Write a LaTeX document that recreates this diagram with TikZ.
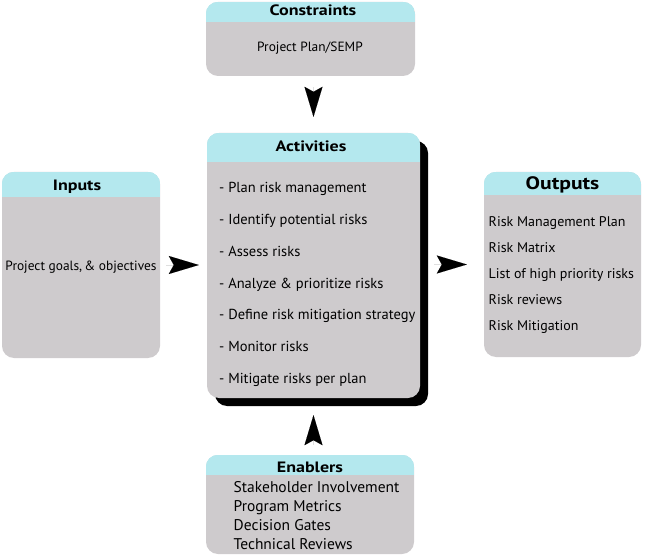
\documentclass[tikz,border=0pt]{standalone}
\usepackage{fontspec}
\setmainfont{PT Sans}
\newfontfamily\ttlfont{PT Sans}[FakeStretch=1.2]
\usetikzlibrary{arrows.meta,shadows}
\definecolor{boxgray}{RGB}{206,203,205}
\definecolor{headcyan}{RGB}{180,232,238}
\tikzset{
  box/.style={fill=boxgray, rounded corners=12pt, inner sep=0pt},
  ttl/.style={font=\ttlfont\fontsize{15}{17}\selectfont\bfseries, inner sep=0pt, anchor=base},
  itm/.style={font=\fontsize{14.5}{17}\selectfont, inner sep=0pt, anchor=base west},
  oit/.style={font=\fontsize{14}{16}\selectfont, inner sep=0pt, anchor=base west},
  bod/.style={font=\fontsize{13.4}{16}\selectfont, inner sep=0pt, anchor=base},
  enb/.style={font=\fontsize{15.5}{17}\selectfont, inner sep=0pt, anchor=base west},
  arr/.style={draw=black, line width=0.01pt, -{Stealth[length=30pt,width=18pt,inset=5pt]}},
}
\begin{document}
\begin{tikzpicture}[x=1pt,y=-1pt]
\useasboundingbox (0,0) rectangle (645,556);
% boxes
\node[box, minimum width=209pt, minimum height=74pt] (con) at (310.5,39) {};
\node[box, minimum width=213pt, minimum height=265pt,
  drop shadow={shadow xshift=8pt, shadow yshift=-8pt, opacity=1, fill=black}] (act) at (313.5,265.5) {};
\node[box, minimum width=158pt, minimum height=186pt] (inp) at (81,265) {};
\node[box, minimum width=157pt, minimum height=185pt] (out) at (562.5,264.5) {};
\node[box, minimum width=208pt, minimum height=99pt] (enb) at (310,504.5) {};
% headers
\foreach \b/\h in {con/20, act/29, inp/25, out/23, enb/20}{
  \begin{scope}
    \clip[rounded corners=12pt] (\b.north west) rectangle (\b.south east);
    \fill[headcyan] (\b.north west) rectangle ([yshift=-\h pt]\b.north east);
  \end{scope}
}
% titles
\node[ttl] (conT) at (313,16) {Constraints};
\node[ttl] (actT) at (311,152) {Activities};
\node[ttl] (inpT) at (77,191) {Inputs};
\node[ttl, font=\ttlfont\fontsize{18}{20}\selectfont\bfseries] (outT) at (562.5,189.5) {Outputs};
\node[ttl] (enbT) at (310,472) {Enablers};
% texts
\node[bod] (conB) at (310,52) {Project Plan/SEMP};
\node[bod] (inpB) at (81,270.5) {Project goals,\,\& objectives};
\foreach \t [count=\i] in {- Plan risk management, - Identify potential risks, - Assess risks,
  - Analyze \& prioritize risks, - Define risk mitigation strategy, - Monitor risks, - Mitigate risks per plan}{
  \node[itm] (a\i) at (219,160.8+31.8*\i) {\t};
}
\foreach \t [count=\i] in {Risk Management Plan, Risk Matrix, List of high priority risks, Risk reviews, Risk Mitigation}{
  \node[oit] (o\i) at (488.5,200+26*\i) {\t};
}
\foreach \t [count=\i] in {Stakeholder Involvement, Program Metrics, Decision Gates, Technical Reviews}{
  \node[enb] (e\i) at (233.5,473+19*\i) {\t};
}
% arrows
\draw[arr, shorten <=11pt, shorten >=16pt] (con.south -| act.north) -- (act.north);
\draw[arr, shorten <=10pt, shorten >=17pt] (enb.north -| act.south) -- (act.south);
\draw[arr, shorten <=6pt, shorten >=8pt] (inp.east) -- (inp.east -| act.west);
\draw[arr, shorten <=14pt, shorten >=17pt] (out.west -| act.east) -- (out.west);
\end{tikzpicture}
\end{document}
